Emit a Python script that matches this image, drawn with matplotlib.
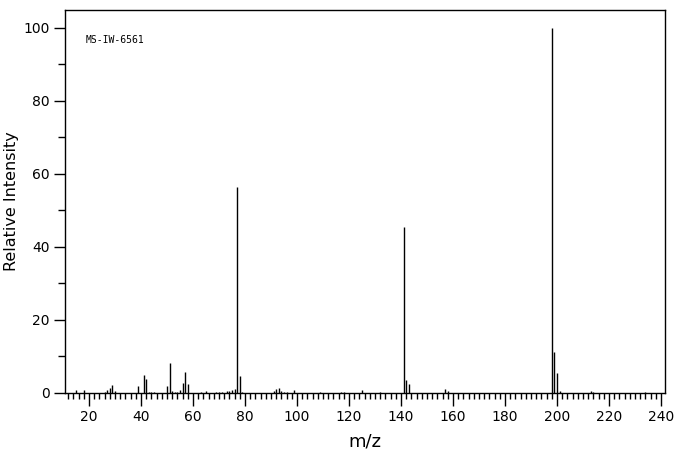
import matplotlib
matplotlib.use("Agg")
import matplotlib.pyplot as plt
from matplotlib.ticker import MultipleLocator

mz = [15, 18, 26, 27, 28, 29, 30, 39, 41, 42, 43, 44, 45, 50, 51, 52, 53, 54, 55, 56, 57, 58,
      63, 65, 69, 70, 71, 73, 74, 75, 76, 77, 78, 79, 91, 92, 93, 94, 95, 96, 99,
      109, 117, 118, 125, 132, 141, 142, 143, 157, 158, 198, 199, 200, 201, 213, 214, 234]
intensity = [0.7, 0.8, 0.4, 0.9, 1.4, 2.1, 0.5, 1.8, 4.8, 3.7, 0.4, 0.3, 0.3, 1.8, 8.1, 0.5, 0.4, 0.4, 0.7, 2.7, 5.8, 2.5,
             0.4, 0.6, 0.3, 0.4, 0.4, 0.5, 0.6, 0.8, 1.0, 56.5, 4.7, 0.3, 0.5, 1.0, 1.3, 0.6, 0.4, 0.4, 0.7,
             0.3, 0.3, 0.3, 0.8, 0.3, 45.5, 3.5, 2.4, 1.2, 0.5, 100.0, 11.2, 5.4, 0.5, 0.6, 0.3, 0.3]
label_text = "MS-IW-6561"

fig = plt.figure(figsize=(6.76, 4.55), dpi=100)
ax = fig.add_axes([65/676, 1-393/455, 600/676, 383/455])
ax.vlines(mz, 0, intensity, colors="black", linewidth=1.0)
ax.set_xlim(10.8, 241.5)
ax.set_ylim(0, 104.9)

ax.spines["bottom"].set_position(("data", 0))
for s in ax.spines.values():
    s.set_linewidth(1.0)
    s.set_color("black")

ax.xaxis.set_major_locator(MultipleLocator(20))
ax.xaxis.set_minor_locator(MultipleLocator(2))
ax.yaxis.set_major_locator(MultipleLocator(20))
ax.yaxis.set_minor_locator(MultipleLocator(10))
ax.tick_params(axis="x", which="major", direction="out", length=9, width=1, labelsize=10, pad=3)
ax.tick_params(axis="x", which="minor", direction="out", length=4, width=1)
ax.tick_params(axis="y", which="major", direction="out", length=8, width=1, labelsize=10, pad=3)
ax.tick_params(axis="y", which="minor", direction="out", length=5, width=1)

ax.set_xlabel("m/z", fontsize=13, labelpad=6)
ax.set_ylabel("Relative Intensity", fontsize=11.5)
ax.yaxis.set_label_coords(-0.077, 0.5)
ax.text(0.035, 0.922, label_text, transform=ax.transAxes, fontsize=7,
        family="DejaVu Sans Mono", va="center", ha="left")

fig.savefig("out.png", dpi=100)
